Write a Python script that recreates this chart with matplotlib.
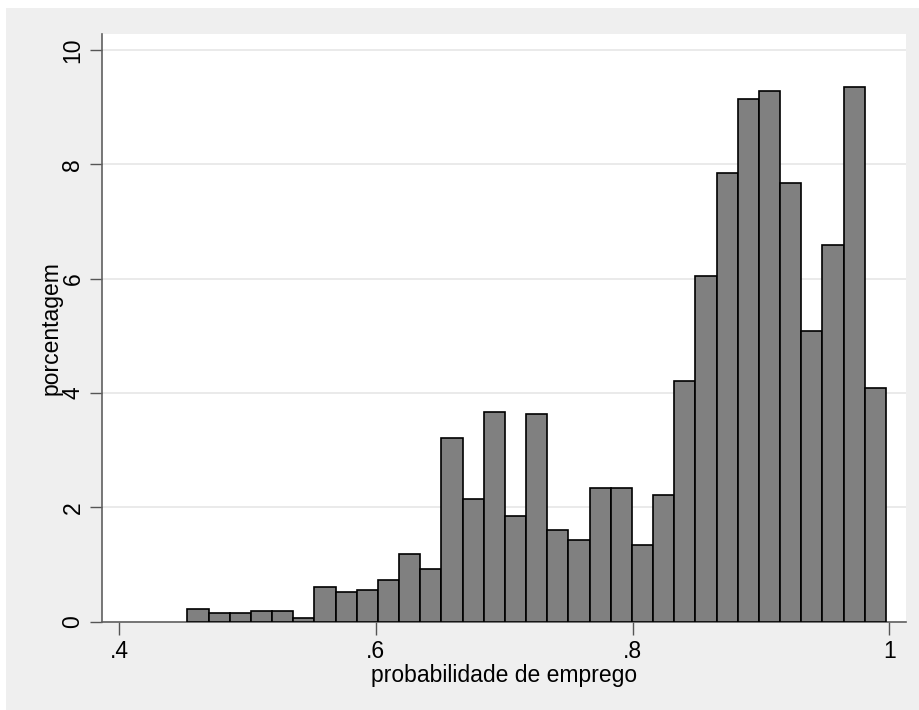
import numpy as np
import matplotlib.pyplot as plt
from matplotlib.patches import Rectangle

# histogram of employment probability (percent per bin)
bin_start = 0.4532
bin_end = 0.9974
heights = [0.22, 0.15, 0.15, 0.19, 0.19, 0.07, 0.60, 0.51, 0.56, 0.72, 1.18,
           0.92, 3.21, 2.14, 3.67, 1.84, 3.63, 1.60, 1.42, 2.34, 2.34, 1.34,
           2.22, 4.20, 6.04, 7.84, 9.14, 9.29, 7.67, 5.09, 6.59, 9.35, 4.09]
x_ticks = [0.4, 0.6, 0.8, 1.0]
x_ticklabels = ['.4', '.6', '.8', '1']
y_ticks = [0, 2, 4, 6, 8, 10]

plt.rcParams['font.family'] = ['Liberation Sans', 'DejaVu Sans']

fig = plt.figure(figsize=(9.2, 7.1), dpi=100, facecolor='white')
# light gray graph region
bg = Rectangle((6 / 920, 0), 1 - 6 / 920, 1 - 8 / 710, transform=fig.transFigure,
               facecolor='#efefef', edgecolor='none', zorder=-10)
fig.add_artist(bg)

ax = fig.add_axes([0.1114, 0.1246, 0.8734, 0.8275])
ax.set_facecolor('white')

edges = np.linspace(bin_start, bin_end, len(heights) + 1)
ax.bar(edges[:-1], heights, width=np.diff(edges), align='edge',
       color='#808080', edgecolor='black', linewidth=1.2, zorder=3)

ax.set_xlim(0.3871, 1.013)
ax.set_ylim(0, 10.28)

ax.set_yticks(y_ticks)
ax.set_yticklabels([str(v) for v in y_ticks], rotation=90, va='center')
ax.set_xticks(x_ticks)
ax.set_xticklabels(x_ticklabels)
ax.tick_params(axis='both', labelsize=16.5, length=9, width=1, color='#555555', pad=4)

ax.grid(axis='y', color='#e8e8e8', linewidth=1.3, zorder=0)
ax.set_axisbelow(True)

for side in ['top', 'right']:
    ax.spines[side].set_visible(False)
for side in ['left', 'bottom']:
    ax.spines[side].set_color('#606060')
    ax.spines[side].set_linewidth(1.2)

ax.set_xlabel('probabilidade de emprego', fontsize=16.5, labelpad=1)
ax.set_ylabel('porcentagem', fontsize=16.5, labelpad=-1)

fig.savefig('out.png', dpi=100, facecolor=fig.get_facecolor())
